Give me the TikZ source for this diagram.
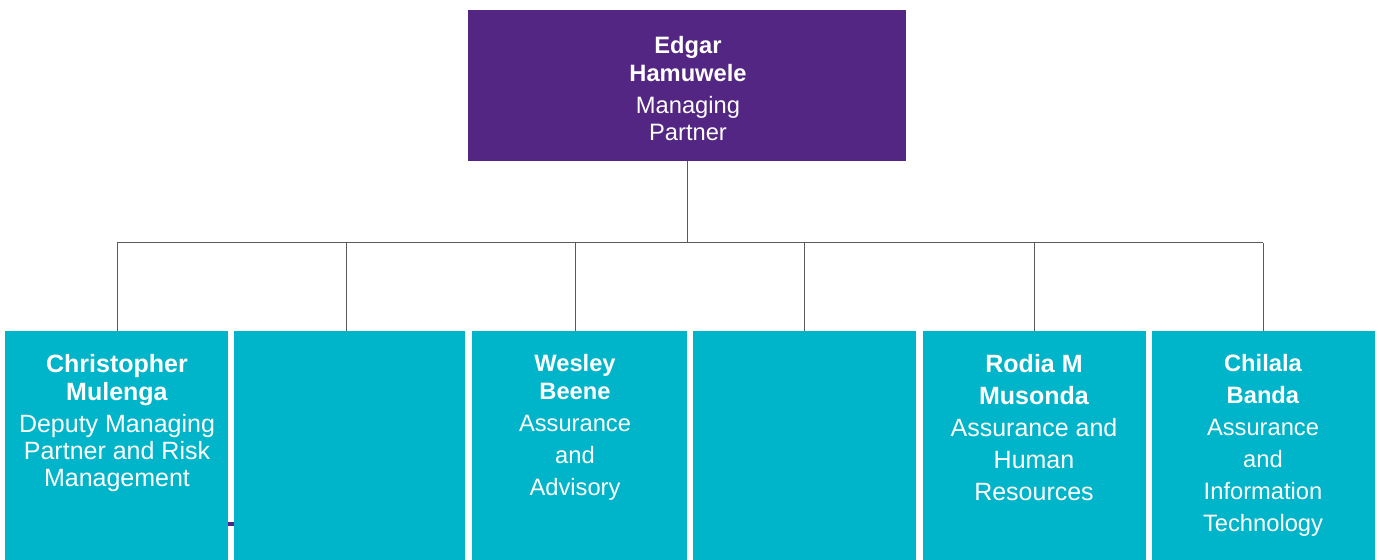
\documentclass[tikz,border=0pt]{standalone}
\usepackage{fontspec}
\setmainfont{Liberation Sans}
\usetikzlibrary{positioning}

\definecolor{kpmgPurple}{RGB}{82,38,130}
\definecolor{kpmgTeal}{RGB}{0,181,201}
\definecolor{lineGray}{RGB}{90,90,90}

\newcommand*{\px}{0.5pt}
\newcommand*{\busY}{243}
\newcommand*{\rowMid}{445.5}
\newcommand*{\gap}{2.35pt}

\tikzset{
  headbox/.style={fill=kpmgPurple, inner sep=0, minimum width=438*\px, minimum height=151*\px},
  staffbox/.style={fill=kpmgTeal, inner sep=0, minimum height=229*\px},
  boxtext/.style={anchor=north, inner sep=0, align=center, text=white,
    font=\fontsize{11.85pt}{13.65pt}\selectfont},
  bigtext/.style={boxtext, font=\fontsize{12.5pt}{13.65pt}\selectfont},
  link/.style={draw=lineGray, line width=0.5pt}
}

\begin{document}
\begin{tikzpicture}[x=\px, y=-\px]
\useasboundingbox (0,0) rectangle (1380,560);

% managing partner
\node[headbox] (head) at (687,85.5) {};

% partner boxes
\foreach \name/\cx/\w in {s1/116.5/223, s2/349.5/231, s3/579.5/215,
                          s4/804.5/223, s5/1034.5/223, s6/1263.5/223} {
  \node[staffbox, minimum width=\w*\px] (\name) at (\cx,\rowMid) {};
}

% small mark between first two boxes
\fill[kpmgPurple] (228,522) rectangle (234,525.5);

% connectors
\coordinate (busL) at (117,\busY);
\coordinate (busR) at (1263,\busY);
\draw[link] (head.south) -- (head.south |- busL);
\draw[link] (busL) -- (busR);
\foreach \name/\dx in {s1/117, s2/346, s3/575, s4/804, s5/1034, s6/1263} {
  \coordinate (d\name) at (\dx,\busY);
  \draw[link] (d\name) -- (d\name |- \name.north);
}

% names and roles
\node[boxtext] (headTxt) at ([yshift=-13.15pt]688,10)
  {\textbf{Edgar}\\\textbf{Hamuwele}\\[\gap]Managing\\Partner};
\node[bigtext] (s1Txt) at ([yshift=-11.85pt]ds1 |- s1.north)
  {\textbf{Christopher}\\\textbf{Mulenga}\\[\gap]Deputy Managing\\Partner and Risk\\Management};
\node[boxtext] (s3Txt) at ([yshift=-11.85pt]ds3 |- s3.north)
  {\textbf{Wesley}\\\textbf{Beene}\\[\gap]Assurance\\[\gap]and\\[\gap]Advisory};
\node[bigtext] (s5Txt) at ([yshift=-11.85pt]ds5 |- s5.north)
  {\textbf{Rodia M}\\[\gap]\textbf{Musonda}\\[\gap]Assurance and\\[\gap]Human\\[\gap]Resources};
\node[boxtext] (s6Txt) at ([yshift=-11.85pt]ds6 |- s6.north)
  {\textbf{Chilala}\\[\gap]\textbf{Banda}\\[\gap]Assurance\\[\gap]and\\[\gap]Information\\[\gap]Technology};

\end{tikzpicture}
\end{document}
